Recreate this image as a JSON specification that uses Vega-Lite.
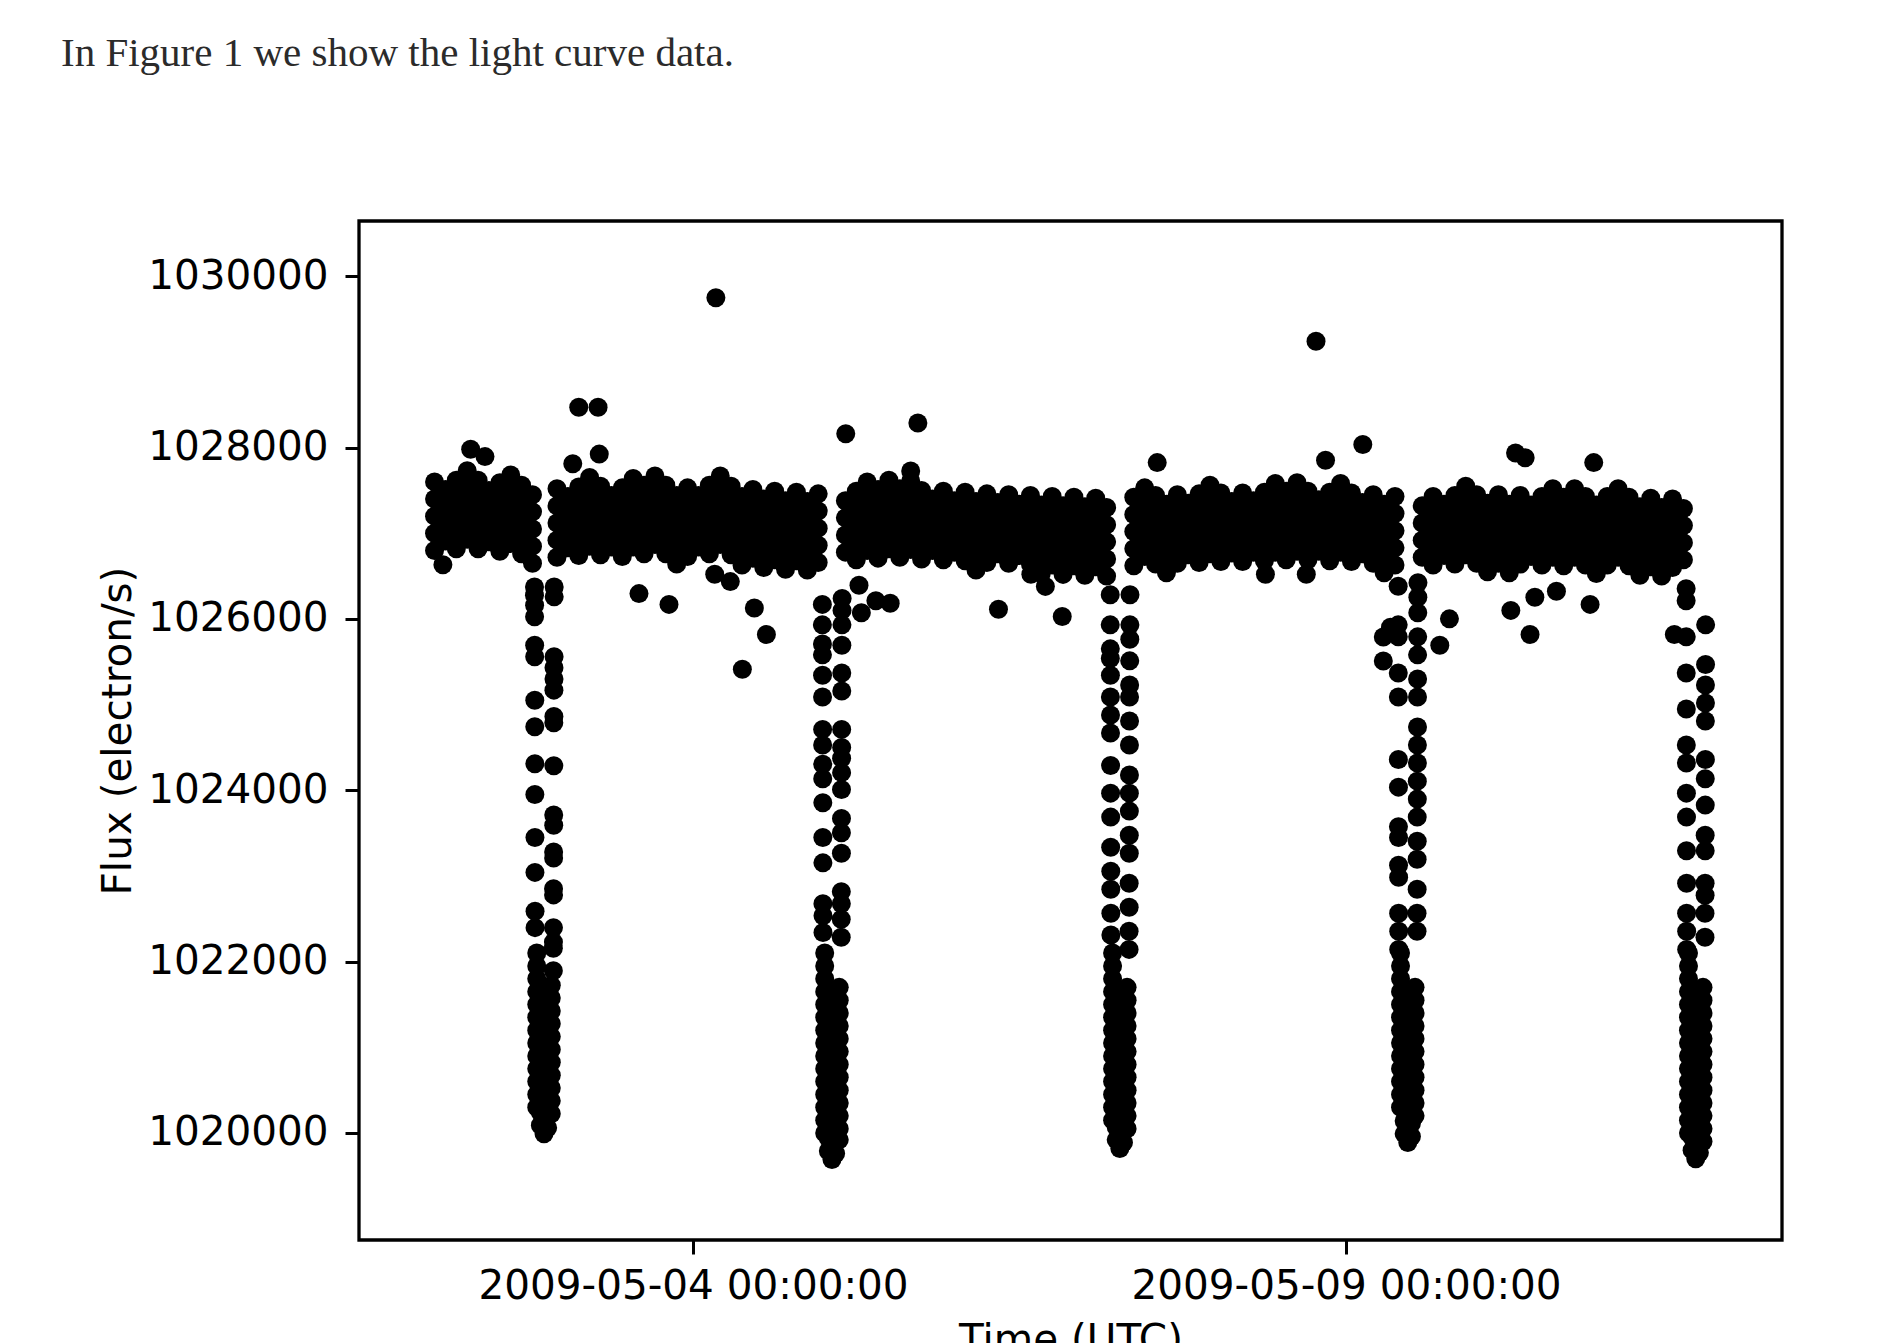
{
"$schema":"https://vega.github.io/schema/vega-lite/v6.json",
"width":1423,"height":1019,
"autosize":{"type":"none"},
"padding":{"left":359,"top":221,"right":104,"bottom":103},
"background":"white",
"title":{"text":"In Figure 1 we show the light curve data.","anchor":"start","frame":"group","orient":"top","offset":114,"baseline":"alphabetic","dx":-298,"font":"Liberation Serif","fontSize":41,"fontWeight":"normal","color":"#2b2b2b","limit":0},
"data":{"format":{"parse":{"t":"utc:'%Y%m%d%H%M'"}},"values":[
{"t":"200905020030","f":1026800},{"t":"200905020030","f":1027000},{"t":"200905020030","f":1027200},{"t":"200905020030","f":1027400},{"t":"200905020030","f":1027600},
{"t":"200905020230","f":1026910},{"t":"200905020230","f":1027110},{"t":"200905020230","f":1027310},{"t":"200905020230","f":1027510},
{"t":"200905020430","f":1026820},{"t":"200905020430","f":1027020},{"t":"200905020430","f":1027220},{"t":"200905020430","f":1027420},{"t":"200905020430","f":1027620},
{"t":"200905020630","f":1026930},{"t":"200905020630","f":1027130},{"t":"200905020630","f":1027330},{"t":"200905020630","f":1027530},{"t":"200905020630","f":1027730},
{"t":"200905020830","f":1026820},{"t":"200905020830","f":1027020},{"t":"200905020830","f":1027220},{"t":"200905020830","f":1027420},{"t":"200905020830","f":1027620},
{"t":"200905021030","f":1026900},{"t":"200905021030","f":1027100},{"t":"200905021030","f":1027300},{"t":"200905021030","f":1027500},
{"t":"200905021230","f":1026790},{"t":"200905021230","f":1026990},{"t":"200905021230","f":1027190},{"t":"200905021230","f":1027390},{"t":"200905021230","f":1027590},
{"t":"200905021430","f":1026880},{"t":"200905021430","f":1027080},{"t":"200905021430","f":1027280},{"t":"200905021430","f":1027480},{"t":"200905021430","f":1027680},
{"t":"200905021630","f":1026760},{"t":"200905021630","f":1026960},{"t":"200905021630","f":1027160},{"t":"200905021630","f":1027360},{"t":"200905021630","f":1027560},
{"t":"200905021830","f":1026650},{"t":"200905021830","f":1026850},{"t":"200905021830","f":1027050},{"t":"200905021830","f":1027250},{"t":"200905021830","f":1027450},
{"t":"200905021852","f":1026374},{"t":"200905021852","f":1026278},{"t":"200905021853","f":1026161},{"t":"200905021853","f":1026025},{"t":"200905021854","f":1025694},{"t":"200905021854","f":1025558},{"t":"200905021855","f":1025052},{"t":"200905021855","f":1024741},{"t":"200905021856","f":1024310},{"t":"200905021856","f":1023952},{"t":"200905021857","f":1023449},{"t":"200905021857","f":1023042},{"t":"200905021858","f":1022588},{"t":"200905021858","f":1022397},
{"t":"200905021917","f":1022100},{"t":"200905021917","f":1021950},{"t":"200905021917","f":1021800},{"t":"200905021917","f":1021650},{"t":"200905021917","f":1021500},{"t":"200905021917","f":1021350},{"t":"200905021917","f":1021200},{"t":"200905021917","f":1021050},{"t":"200905021917","f":1020900},{"t":"200905021917","f":1020750},{"t":"200905021917","f":1020600},{"t":"200905021917","f":1020450},{"t":"200905021917","f":1020300},
{"t":"200905021957","f":1020090},{"t":"200905021957","f":1020240},{"t":"200905021957","f":1020390},
{"t":"200905022037","f":1019990},{"t":"200905022037","f":1020140},
{"t":"200905022117","f":1020060},{"t":"200905022117","f":1020210},{"t":"200905022117","f":1020360},
{"t":"200905022157","f":1021725},{"t":"200905022157","f":1021575},{"t":"200905022157","f":1021425},{"t":"200905022157","f":1021275},{"t":"200905022157","f":1021125},{"t":"200905022157","f":1020975},{"t":"200905022157","f":1020825},{"t":"200905022157","f":1020675},{"t":"200905022157","f":1020525},{"t":"200905022157","f":1020375},{"t":"200905022157","f":1020225},
{"t":"200905022220","f":1021894},{"t":"200905022220","f":1022156},{"t":"200905022221","f":1022228},{"t":"200905022221","f":1022397},{"t":"200905022222","f":1022779},{"t":"200905022222","f":1022850},{"t":"200905022223","f":1023209},{"t":"200905022223","f":1023281},{"t":"200905022224","f":1023593},{"t":"200905022224","f":1023713},{"t":"200905022225","f":1024287},{"t":"200905022225","f":1024789},{"t":"200905022226","f":1024861},{"t":"200905022226","f":1025169},{"t":"200905022227","f":1025300},{"t":"200905022227","f":1025430},{"t":"200905022228","f":1025558},{"t":"200905022229","f":1026258},{"t":"200905022229","f":1026374},
{"t":"200905022300","f":1026720},{"t":"200905022300","f":1026920},{"t":"200905022300","f":1027120},{"t":"200905022300","f":1027320},{"t":"200905022300","f":1027520},
{"t":"200905030100","f":1026830},{"t":"200905030100","f":1027030},{"t":"200905030100","f":1027230},{"t":"200905030100","f":1027430},
{"t":"200905030300","f":1026740},{"t":"200905030300","f":1026940},{"t":"200905030300","f":1027140},{"t":"200905030300","f":1027340},{"t":"200905030300","f":1027540},
{"t":"200905030500","f":1026850},{"t":"200905030500","f":1027050},{"t":"200905030500","f":1027250},{"t":"200905030500","f":1027450},{"t":"200905030500","f":1027650},
{"t":"200905030700","f":1026750},{"t":"200905030700","f":1026950},{"t":"200905030700","f":1027150},{"t":"200905030700","f":1027350},{"t":"200905030700","f":1027550},
{"t":"200905030900","f":1026840},{"t":"200905030900","f":1027040},{"t":"200905030900","f":1027240},{"t":"200905030900","f":1027440},
{"t":"200905031100","f":1026730},{"t":"200905031100","f":1026930},{"t":"200905031100","f":1027130},{"t":"200905031100","f":1027330},{"t":"200905031100","f":1027530},
{"t":"200905031300","f":1026840},{"t":"200905031300","f":1027040},{"t":"200905031300","f":1027240},{"t":"200905031300","f":1027440},{"t":"200905031300","f":1027640},
{"t":"200905031500","f":1026760},{"t":"200905031500","f":1026960},{"t":"200905031500","f":1027160},{"t":"200905031500","f":1027360},{"t":"200905031500","f":1027560},
{"t":"200905031700","f":1026870},{"t":"200905031700","f":1027070},{"t":"200905031700","f":1027270},{"t":"200905031700","f":1027470},{"t":"200905031700","f":1027670},
{"t":"200905031900","f":1026760},{"t":"200905031900","f":1026960},{"t":"200905031900","f":1027160},{"t":"200905031900","f":1027360},{"t":"200905031900","f":1027560},
{"t":"200905032100","f":1026640},{"t":"200905032100","f":1026840},{"t":"200905032100","f":1027040},{"t":"200905032100","f":1027240},{"t":"200905032100","f":1027440},
{"t":"200905032300","f":1026730},{"t":"200905032300","f":1026930},{"t":"200905032300","f":1027130},{"t":"200905032300","f":1027330},{"t":"200905032300","f":1027530},
{"t":"200905040100","f":1026840},{"t":"200905040100","f":1027040},{"t":"200905040100","f":1027240},{"t":"200905040100","f":1027440},
{"t":"200905040300","f":1026760},{"t":"200905040300","f":1026960},{"t":"200905040300","f":1027160},{"t":"200905040300","f":1027360},{"t":"200905040300","f":1027560},
{"t":"200905040500","f":1026870},{"t":"200905040500","f":1027070},{"t":"200905040500","f":1027270},{"t":"200905040500","f":1027470},{"t":"200905040500","f":1027670},
{"t":"200905040700","f":1026750},{"t":"200905040700","f":1026950},{"t":"200905040700","f":1027150},{"t":"200905040700","f":1027350},{"t":"200905040700","f":1027550},
{"t":"200905040900","f":1026630},{"t":"200905040900","f":1026830},{"t":"200905040900","f":1027030},{"t":"200905040900","f":1027230},{"t":"200905040900","f":1027430},
{"t":"200905041100","f":1026710},{"t":"200905041100","f":1026910},{"t":"200905041100","f":1027110},{"t":"200905041100","f":1027310},{"t":"200905041100","f":1027510},
{"t":"200905041300","f":1026600},{"t":"200905041300","f":1026800},{"t":"200905041300","f":1027000},{"t":"200905041300","f":1027200},{"t":"200905041300","f":1027400},
{"t":"200905041500","f":1026690},{"t":"200905041500","f":1026890},{"t":"200905041500","f":1027090},{"t":"200905041500","f":1027290},{"t":"200905041500","f":1027490},
{"t":"200905041700","f":1026580},{"t":"200905041700","f":1026780},{"t":"200905041700","f":1026980},{"t":"200905041700","f":1027180},{"t":"200905041700","f":1027380},
{"t":"200905041900","f":1026680},{"t":"200905041900","f":1026880},{"t":"200905041900","f":1027080},{"t":"200905041900","f":1027280},{"t":"200905041900","f":1027480},
{"t":"200905042100","f":1026570},{"t":"200905042100","f":1026770},{"t":"200905042100","f":1026970},{"t":"200905042100","f":1027170},{"t":"200905042100","f":1027370},
{"t":"200905042300","f":1026660},{"t":"200905042300","f":1026860},{"t":"200905042300","f":1027060},{"t":"200905042300","f":1027260},{"t":"200905042300","f":1027460},
{"t":"200905042346","f":1026170},{"t":"200905042346","f":1025931},{"t":"200905042347","f":1025707},{"t":"200905042347","f":1025581},{"t":"200905042348","f":1025342},{"t":"200905042348","f":1025090},{"t":"200905042349","f":1024711},{"t":"200905042349","f":1024528},{"t":"200905042350","f":1024304},{"t":"200905042350","f":1024135},{"t":"200905042351","f":1023855},{"t":"200905042351","f":1023448},{"t":"200905042352","f":1023153},{"t":"200905042352","f":1022676},{"t":"200905042353","f":1022536},{"t":"200905042353","f":1022340},
{"t":"200905050012","f":1022100},{"t":"200905050012","f":1021950},{"t":"200905050012","f":1021800},{"t":"200905050012","f":1021650},{"t":"200905050012","f":1021500},{"t":"200905050012","f":1021350},{"t":"200905050012","f":1021200},{"t":"200905050012","f":1021050},{"t":"200905050012","f":1020900},{"t":"200905050012","f":1020750},{"t":"200905050012","f":1020600},{"t":"200905050012","f":1020450},{"t":"200905050012","f":1020300},{"t":"200905050012","f":1020150},{"t":"200905050012","f":1020000},
{"t":"200905050052","f":1019790},{"t":"200905050052","f":1019940},{"t":"200905050052","f":1020090},
{"t":"200905050132","f":1019690},{"t":"200905050132","f":1019840},
{"t":"200905050212","f":1019760},{"t":"200905050212","f":1019910},{"t":"200905050212","f":1020060},
{"t":"200905050252","f":1021700},{"t":"200905050252","f":1021550},{"t":"200905050252","f":1021400},{"t":"200905050252","f":1021250},{"t":"200905050252","f":1021100},{"t":"200905050252","f":1020950},{"t":"200905050252","f":1020800},{"t":"200905050252","f":1020650},{"t":"200905050252","f":1020500},{"t":"200905050252","f":1020350},{"t":"200905050252","f":1020200},{"t":"200905050252","f":1020050},{"t":"200905050252","f":1019920},
{"t":"200905050314","f":1022284},{"t":"200905050314","f":1022494},{"t":"200905050315","f":1022676},{"t":"200905050315","f":1022817},{"t":"200905050316","f":1023266},{"t":"200905050316","f":1023504},{"t":"200905050317","f":1023672},{"t":"200905050317","f":1024009},{"t":"200905050318","f":1024206},{"t":"200905050318","f":1024374},{"t":"200905050319","f":1024500},{"t":"200905050319","f":1024711},{"t":"200905050320","f":1025160},{"t":"200905050320","f":1025370},{"t":"200905050321","f":1025693},{"t":"200905050322","f":1025931},{"t":"200905050323","f":1026100},{"t":"200905050324","f":1026240},
{"t":"200905050400","f":1026780},{"t":"200905050400","f":1026980},{"t":"200905050400","f":1027180},{"t":"200905050400","f":1027380},
{"t":"200905050600","f":1026690},{"t":"200905050600","f":1026890},{"t":"200905050600","f":1027090},{"t":"200905050600","f":1027290},{"t":"200905050600","f":1027490},
{"t":"200905050800","f":1026800},{"t":"200905050800","f":1027000},{"t":"200905050800","f":1027200},{"t":"200905050800","f":1027400},{"t":"200905050800","f":1027600},
{"t":"200905051000","f":1026710},{"t":"200905051000","f":1026910},{"t":"200905051000","f":1027110},{"t":"200905051000","f":1027310},{"t":"200905051000","f":1027510},
{"t":"200905051200","f":1026820},{"t":"200905051200","f":1027020},{"t":"200905051200","f":1027220},{"t":"200905051200","f":1027420},{"t":"200905051200","f":1027620},
{"t":"200905051400","f":1026720},{"t":"200905051400","f":1026920},{"t":"200905051400","f":1027120},{"t":"200905051400","f":1027320},{"t":"200905051400","f":1027520},
{"t":"200905051600","f":1026810},{"t":"200905051600","f":1027010},{"t":"200905051600","f":1027210},{"t":"200905051600","f":1027410},{"t":"200905051600","f":1027610},
{"t":"200905051800","f":1026700},{"t":"200905051800","f":1026900},{"t":"200905051800","f":1027100},{"t":"200905051800","f":1027300},{"t":"200905051800","f":1027500},
{"t":"200905052000","f":1026800},{"t":"200905052000","f":1027000},{"t":"200905052000","f":1027200},{"t":"200905052000","f":1027400},
{"t":"200905052200","f":1026690},{"t":"200905052200","f":1026890},{"t":"200905052200","f":1027090},{"t":"200905052200","f":1027290},{"t":"200905052200","f":1027490},
{"t":"200905060000","f":1026780},{"t":"200905060000","f":1026980},{"t":"200905060000","f":1027180},{"t":"200905060000","f":1027380},
{"t":"200905060200","f":1026680},{"t":"200905060200","f":1026880},{"t":"200905060200","f":1027080},{"t":"200905060200","f":1027280},{"t":"200905060200","f":1027480},
{"t":"200905060400","f":1026570},{"t":"200905060400","f":1026770},{"t":"200905060400","f":1026970},{"t":"200905060400","f":1027170},{"t":"200905060400","f":1027370},
{"t":"200905060600","f":1026660},{"t":"200905060600","f":1026860},{"t":"200905060600","f":1027060},{"t":"200905060600","f":1027260},{"t":"200905060600","f":1027460},
{"t":"200905060800","f":1026760},{"t":"200905060800","f":1026960},{"t":"200905060800","f":1027160},{"t":"200905060800","f":1027360},
{"t":"200905061000","f":1026650},{"t":"200905061000","f":1026850},{"t":"200905061000","f":1027050},{"t":"200905061000","f":1027250},{"t":"200905061000","f":1027450},
{"t":"200905061200","f":1026740},{"t":"200905061200","f":1026940},{"t":"200905061200","f":1027140},{"t":"200905061200","f":1027340},
{"t":"200905061400","f":1026640},{"t":"200905061400","f":1026840},{"t":"200905061400","f":1027040},{"t":"200905061400","f":1027240},{"t":"200905061400","f":1027440},
{"t":"200905061600","f":1026530},{"t":"200905061600","f":1026730},{"t":"200905061600","f":1026930},{"t":"200905061600","f":1027130},{"t":"200905061600","f":1027330},
{"t":"200905061800","f":1026630},{"t":"200905061800","f":1026830},{"t":"200905061800","f":1027030},{"t":"200905061800","f":1027230},{"t":"200905061800","f":1027430},
{"t":"200905062000","f":1026520},{"t":"200905062000","f":1026720},{"t":"200905062000","f":1026920},{"t":"200905062000","f":1027120},{"t":"200905062000","f":1027320},
{"t":"200905062200","f":1026620},{"t":"200905062200","f":1026820},{"t":"200905062200","f":1027020},{"t":"200905062200","f":1027220},{"t":"200905062200","f":1027420},
{"t":"200905070000","f":1026510},{"t":"200905070000","f":1026710},{"t":"200905070000","f":1026910},{"t":"200905070000","f":1027110},{"t":"200905070000","f":1027310},
{"t":"200905070200","f":1026610},{"t":"200905070200","f":1026810},{"t":"200905070200","f":1027010},{"t":"200905070200","f":1027210},{"t":"200905070200","f":1027410},
{"t":"200905070400","f":1026500},{"t":"200905070400","f":1026700},{"t":"200905070400","f":1026900},{"t":"200905070400","f":1027100},{"t":"200905070400","f":1027300},
{"t":"200905070440","f":1026282},{"t":"200905070440","f":1025931},{"t":"200905070441","f":1025651},{"t":"200905070441","f":1025539},{"t":"200905070442","f":1025342},{"t":"200905070442","f":1025090},{"t":"200905070443","f":1024879},{"t":"200905070443","f":1024669},{"t":"200905070444","f":1024290},{"t":"200905070444","f":1023967},{"t":"200905070445","f":1023687},{"t":"200905070445","f":1023336},{"t":"200905070446","f":1023056},{"t":"200905070446","f":1022845},{"t":"200905070447","f":1022564},{"t":"200905070447","f":1022312},
{"t":"200905070506","f":1022100},{"t":"200905070506","f":1021950},{"t":"200905070506","f":1021800},{"t":"200905070506","f":1021650},{"t":"200905070506","f":1021500},{"t":"200905070506","f":1021350},{"t":"200905070506","f":1021200},{"t":"200905070506","f":1021050},{"t":"200905070506","f":1020900},{"t":"200905070506","f":1020750},{"t":"200905070506","f":1020600},{"t":"200905070506","f":1020450},{"t":"200905070506","f":1020300},{"t":"200905070506","f":1020150},
{"t":"200905070546","f":1019920},{"t":"200905070546","f":1020070},{"t":"200905070546","f":1020220},
{"t":"200905070626","f":1019820},{"t":"200905070626","f":1019970},
{"t":"200905070706","f":1019890},{"t":"200905070706","f":1020040},{"t":"200905070706","f":1020190},
{"t":"200905070746","f":1021700},{"t":"200905070746","f":1021550},{"t":"200905070746","f":1021400},{"t":"200905070746","f":1021250},{"t":"200905070746","f":1021100},{"t":"200905070746","f":1020950},{"t":"200905070746","f":1020800},{"t":"200905070746","f":1020650},{"t":"200905070746","f":1020500},{"t":"200905070746","f":1020350},{"t":"200905070746","f":1020200},{"t":"200905070746","f":1020050},
{"t":"200905070808","f":1022143},{"t":"200905070808","f":1022354},{"t":"200905070809","f":1022635},{"t":"200905070809","f":1022915},{"t":"200905070810","f":1023266},{"t":"200905070810","f":1023476},{"t":"200905070811","f":1023757},{"t":"200905070811","f":1023967},{"t":"200905070812","f":1024178},{"t":"200905070812","f":1024528},{"t":"200905070813","f":1024809},{"t":"200905070813","f":1025090},{"t":"200905070814","f":1025230},{"t":"200905070815","f":1025511},{"t":"200905070816","f":1025763},{"t":"200905070817","f":1025931},{"t":"200905070818","f":1026282},
{"t":"200905070900","f":1026620},{"t":"200905070900","f":1026820},{"t":"200905070900","f":1027020},{"t":"200905070900","f":1027220},{"t":"200905070900","f":1027420},
{"t":"200905071100","f":1026730},{"t":"200905071100","f":1026930},{"t":"200905071100","f":1027130},{"t":"200905071100","f":1027330},{"t":"200905071100","f":1027530},
{"t":"200905071300","f":1026640},{"t":"200905071300","f":1026840},{"t":"200905071300","f":1027040},{"t":"200905071300","f":1027240},{"t":"200905071300","f":1027440},
{"t":"200905071500","f":1026540},{"t":"200905071500","f":1026740},{"t":"200905071500","f":1026940},{"t":"200905071500","f":1027140},{"t":"200905071500","f":1027340},
{"t":"200905071700","f":1026650},{"t":"200905071700","f":1026850},{"t":"200905071700","f":1027050},{"t":"200905071700","f":1027250},{"t":"200905071700","f":1027450},
{"t":"200905071900","f":1026750},{"t":"200905071900","f":1026950},{"t":"200905071900","f":1027150},{"t":"200905071900","f":1027350},
{"t":"200905072100","f":1026660},{"t":"200905072100","f":1026860},{"t":"200905072100","f":1027060},{"t":"200905072100","f":1027260},{"t":"200905072100","f":1027460},
{"t":"200905072300","f":1026760},{"t":"200905072300","f":1026960},{"t":"200905072300","f":1027160},{"t":"200905072300","f":1027360},{"t":"200905072300","f":1027560},
{"t":"200905080100","f":1026670},{"t":"200905080100","f":1026870},{"t":"200905080100","f":1027070},{"t":"200905080100","f":1027270},{"t":"200905080100","f":1027470},
{"t":"200905080300","f":1026770},{"t":"200905080300","f":1026970},{"t":"200905080300","f":1027170},{"t":"200905080300","f":1027370},
{"t":"200905080500","f":1026670},{"t":"200905080500","f":1026870},{"t":"200905080500","f":1027070},{"t":"200905080500","f":1027270},{"t":"200905080500","f":1027470},
{"t":"200905080700","f":1026780},{"t":"200905080700","f":1026980},{"t":"200905080700","f":1027180},{"t":"200905080700","f":1027380},
{"t":"200905080900","f":1026680},{"t":"200905080900","f":1026880},{"t":"200905080900","f":1027080},{"t":"200905080900","f":1027280},{"t":"200905080900","f":1027480},
{"t":"200905081100","f":1026780},{"t":"200905081100","f":1026980},{"t":"200905081100","f":1027180},{"t":"200905081100","f":1027380},{"t":"200905081100","f":1027580},
{"t":"200905081300","f":1026690},{"t":"200905081300","f":1026890},{"t":"200905081300","f":1027090},{"t":"200905081300","f":1027290},{"t":"200905081300","f":1027490},
{"t":"200905081500","f":1026790},{"t":"200905081500","f":1026990},{"t":"200905081500","f":1027190},{"t":"200905081500","f":1027390},{"t":"200905081500","f":1027590},
{"t":"200905081700","f":1026690},{"t":"200905081700","f":1026890},{"t":"200905081700","f":1027090},{"t":"200905081700","f":1027290},{"t":"200905081700","f":1027490},
{"t":"200905081900","f":1026790},{"t":"200905081900","f":1026990},{"t":"200905081900","f":1027190},{"t":"200905081900","f":1027390},
{"t":"200905082100","f":1026680},{"t":"200905082100","f":1026880},{"t":"200905082100","f":1027080},{"t":"200905082100","f":1027280},{"t":"200905082100","f":1027480},
{"t":"200905082300","f":1026780},{"t":"200905082300","f":1026980},{"t":"200905082300","f":1027180},{"t":"200905082300","f":1027380},{"t":"200905082300","f":1027580},
{"t":"200905090100","f":1026670},{"t":"200905090100","f":1026870},{"t":"200905090100","f":1027070},{"t":"200905090100","f":1027270},{"t":"200905090100","f":1027470},
{"t":"200905090300","f":1026760},{"t":"200905090300","f":1026960},{"t":"200905090300","f":1027160},{"t":"200905090300","f":1027360},
{"t":"200905090500","f":1026650},{"t":"200905090500","f":1026850},{"t":"200905090500","f":1027050},{"t":"200905090500","f":1027250},{"t":"200905090500","f":1027450},
{"t":"200905090700","f":1026540},{"t":"200905090700","f":1026740},{"t":"200905090700","f":1026940},{"t":"200905090700","f":1027140},{"t":"200905090700","f":1027340},
{"t":"200905090900","f":1026630},{"t":"200905090900","f":1026830},{"t":"200905090900","f":1027030},{"t":"200905090900","f":1027230},{"t":"200905090900","f":1027430},
{"t":"200905090935","f":1026381},{"t":"200905090935","f":1025931},{"t":"200905090936","f":1025791},{"t":"200905090936","f":1025370},{"t":"200905090937","f":1025090},{"t":"200905090937","f":1024360},{"t":"200905090938","f":1024037},{"t":"200905090938","f":1023575},{"t":"200905090939","f":1023448},{"t":"200905090939","f":1023126},{"t":"200905090940","f":1022986},{"t":"200905090940","f":1022564},{"t":"200905090941","f":1022354},{"t":"200905090941","f":1022143},
{"t":"200905091001","f":1022100},{"t":"200905091001","f":1021950},{"t":"200905091001","f":1021800},{"t":"200905091001","f":1021650},{"t":"200905091001","f":1021500},{"t":"200905091001","f":1021350},{"t":"200905091001","f":1021200},{"t":"200905091001","f":1021050},{"t":"200905091001","f":1020900},{"t":"200905091001","f":1020750},{"t":"200905091001","f":1020600},{"t":"200905091001","f":1020450},{"t":"200905091001","f":1020300},
{"t":"200905091041","f":1019990},{"t":"200905091041","f":1020140},{"t":"200905091041","f":1020290},
{"t":"200905091121","f":1019890},{"t":"200905091121","f":1020040},
{"t":"200905091201","f":1019960},{"t":"200905091201","f":1020110},{"t":"200905091201","f":1020260},
{"t":"200905091241","f":1021700},{"t":"200905091241","f":1021550},{"t":"200905091241","f":1021400},{"t":"200905091241","f":1021250},{"t":"200905091241","f":1021100},{"t":"200905091241","f":1020950},{"t":"200905091241","f":1020800},{"t":"200905091241","f":1020650},{"t":"200905091241","f":1020500},{"t":"200905091241","f":1020350},{"t":"200905091241","f":1020200},
{"t":"200905091303","f":1022354},{"t":"200905091303","f":1022564},{"t":"200905091304","f":1022845},{"t":"200905091304","f":1023196},{"t":"200905091305","f":1023406},{"t":"200905091305","f":1023687},{"t":"200905091306","f":1023897},{"t":"200905091306","f":1024107},{"t":"200905091307","f":1024318},{"t":"200905091307","f":1024528},{"t":"200905091308","f":1024739},{"t":"200905091308","f":1025090},{"t":"200905091309","f":1025300},{"t":"200905091309","f":1025581},{"t":"200905091310","f":1025791},{"t":"200905091311","f":1026072},{"t":"200905091312","f":1026254},{"t":"200905091313","f":1026423},
{"t":"200905091400","f":1026720},{"t":"200905091400","f":1026920},{"t":"200905091400","f":1027120},{"t":"200905091400","f":1027320},
{"t":"200905091600","f":1026630},{"t":"200905091600","f":1026830},{"t":"200905091600","f":1027030},{"t":"200905091600","f":1027230},{"t":"200905091600","f":1027430},
{"t":"200905091800","f":1026740},{"t":"200905091800","f":1026940},{"t":"200905091800","f":1027140},{"t":"200905091800","f":1027340},
{"t":"200905092000","f":1026640},{"t":"200905092000","f":1026840},{"t":"200905092000","f":1027040},{"t":"200905092000","f":1027240},{"t":"200905092000","f":1027440},
{"t":"200905092200","f":1026750},{"t":"200905092200","f":1026950},{"t":"200905092200","f":1027150},{"t":"200905092200","f":1027350},{"t":"200905092200","f":1027550},
{"t":"200905100000","f":1026650},{"t":"200905100000","f":1026850},{"t":"200905100000","f":1027050},{"t":"200905100000","f":1027250},{"t":"200905100000","f":1027450},
{"t":"200905100200","f":1026550},{"t":"200905100200","f":1026750},{"t":"200905100200","f":1026950},{"t":"200905100200","f":1027150},{"t":"200905100200","f":1027350},
{"t":"200905100400","f":1026650},{"t":"200905100400","f":1026850},{"t":"200905100400","f":1027050},{"t":"200905100400","f":1027250},{"t":"200905100400","f":1027450},
{"t":"200905100600","f":1026540},{"t":"200905100600","f":1026740},{"t":"200905100600","f":1026940},{"t":"200905100600","f":1027140},{"t":"200905100600","f":1027340},
{"t":"200905100800","f":1026640},{"t":"200905100800","f":1026840},{"t":"200905100800","f":1027040},{"t":"200905100800","f":1027240},{"t":"200905100800","f":1027440},
{"t":"200905101000","f":1026730},{"t":"200905101000","f":1026930},{"t":"200905101000","f":1027130},{"t":"200905101000","f":1027330},
{"t":"200905101200","f":1026630},{"t":"200905101200","f":1026830},{"t":"200905101200","f":1027030},{"t":"200905101200","f":1027230},{"t":"200905101200","f":1027430},
{"t":"200905101400","f":1026720},{"t":"200905101400","f":1026920},{"t":"200905101400","f":1027120},{"t":"200905101400","f":1027320},{"t":"200905101400","f":1027520},
{"t":"200905101600","f":1026620},{"t":"200905101600","f":1026820},{"t":"200905101600","f":1027020},{"t":"200905101600","f":1027220},{"t":"200905101600","f":1027420},
{"t":"200905101800","f":1026720},{"t":"200905101800","f":1026920},{"t":"200905101800","f":1027120},{"t":"200905101800","f":1027320},{"t":"200905101800","f":1027520},
{"t":"200905102000","f":1026630},{"t":"200905102000","f":1026830},{"t":"200905102000","f":1027030},{"t":"200905102000","f":1027230},{"t":"200905102000","f":1027430},
{"t":"200905102200","f":1026530},{"t":"200905102200","f":1026730},{"t":"200905102200","f":1026930},{"t":"200905102200","f":1027130},{"t":"200905102200","f":1027330},
{"t":"200905110000","f":1026630},{"t":"200905110000","f":1026830},{"t":"200905110000","f":1027030},{"t":"200905110000","f":1027230},{"t":"200905110000","f":1027430},
{"t":"200905110200","f":1026720},{"t":"200905110200","f":1026920},{"t":"200905110200","f":1027120},{"t":"200905110200","f":1027320},{"t":"200905110200","f":1027520},
{"t":"200905110400","f":1026620},{"t":"200905110400","f":1026820},{"t":"200905110400","f":1027020},{"t":"200905110400","f":1027220},{"t":"200905110400","f":1027420},
{"t":"200905110600","f":1026510},{"t":"200905110600","f":1026710},{"t":"200905110600","f":1026910},{"t":"200905110600","f":1027110},{"t":"200905110600","f":1027310},
{"t":"200905110800","f":1026610},{"t":"200905110800","f":1026810},{"t":"200905110800","f":1027010},{"t":"200905110800","f":1027210},{"t":"200905110800","f":1027410},
{"t":"200905111000","f":1026500},{"t":"200905111000","f":1026700},{"t":"200905111000","f":1026900},{"t":"200905111000","f":1027100},{"t":"200905111000","f":1027300},
{"t":"200905111200","f":1026600},{"t":"200905111200","f":1026800},{"t":"200905111200","f":1027000},{"t":"200905111200","f":1027200},{"t":"200905111200","f":1027400},
{"t":"200905111400","f":1026690},{"t":"200905111400","f":1026890},{"t":"200905111400","f":1027090},{"t":"200905111400","f":1027290},
{"t":"200905111430","f":1026352},{"t":"200905111430","f":1026212},{"t":"200905111431","f":1025791},{"t":"200905111431","f":1025370},{"t":"200905111432","f":1024950},{"t":"200905111432","f":1024528},{"t":"200905111433","f":1024318},{"t":"200905111433","f":1023967},{"t":"200905111434","f":1023687},{"t":"200905111434","f":1023294},{"t":"200905111435","f":1022915},{"t":"200905111435","f":1022564},{"t":"200905111436","f":1022354},{"t":"200905111436","f":1022143},
{"t":"200905111456","f":1022100},{"t":"200905111456","f":1021950},{"t":"200905111456","f":1021800},{"t":"200905111456","f":1021650},{"t":"200905111456","f":1021500},{"t":"200905111456","f":1021350},{"t":"200905111456","f":1021200},{"t":"200905111456","f":1021050},{"t":"200905111456","f":1020900},{"t":"200905111456","f":1020750},{"t":"200905111456","f":1020600},{"t":"200905111456","f":1020450},{"t":"200905111456","f":1020300},{"t":"200905111456","f":1020150},{"t":"200905111456","f":1020000},
{"t":"200905111536","f":1019800},{"t":"200905111536","f":1019950},{"t":"200905111536","f":1020100},
{"t":"200905111616","f":1019700},{"t":"200905111616","f":1019850},
{"t":"200905111656","f":1019770},{"t":"200905111656","f":1019920},{"t":"200905111656","f":1020070},
{"t":"200905111736","f":1021700},{"t":"200905111736","f":1021550},{"t":"200905111736","f":1021400},{"t":"200905111736","f":1021250},{"t":"200905111736","f":1021100},{"t":"200905111736","f":1020950},{"t":"200905111736","f":1020800},{"t":"200905111736","f":1020650},{"t":"200905111736","f":1020500},{"t":"200905111736","f":1020350},{"t":"200905111736","f":1020200},{"t":"200905111736","f":1020050},{"t":"200905111736","f":1019900},
{"t":"200905111758","f":1022284},{"t":"200905111758","f":1022564},{"t":"200905111759","f":1022775},{"t":"200905111759","f":1022915},{"t":"200905111800","f":1023294},{"t":"200905111800","f":1023476},{"t":"200905111801","f":1023827},{"t":"200905111801","f":1024135},{"t":"200905111802","f":1024360},{"t":"200905111802","f":1024809},{"t":"200905111803","f":1025020},{"t":"200905111803","f":1025230},{"t":"200905111804","f":1025469},{"t":"200905111805","f":1025931},
{"t":"200905040412","f":1029750},{"t":"200905081829","f":1029242},{"t":"200905020708","f":1027980},{"t":"200905020946","f":1027895},{"t":"200905030300","f":1028471},{"t":"200905030633","f":1028471},{"t":"200905030646","f":1027924},{"t":"200905030154","f":1027811},{"t":"200905050404","f":1028162},{"t":"200905051719","f":1028288},{"t":"200905051600","f":1027727},{"t":"200905071318","f":1027825},{"t":"200905082014","f":1027853},{"t":"200905090305","f":1028036},{"t":"200905100709","f":1027938},{"t":"200905100855","f":1027881},{"t":"200905102131","f":1027825},
{"t":"200905020202","f":1026633},{"t":"200905031404","f":1026296},{"t":"200905031935","f":1026170},{"t":"200905040359","f":1026521},{"t":"200905040651","f":1026436},{"t":"200905041116","f":1026128},{"t":"200905041329","f":1025819},{"t":"200905040904","f":1025412},{"t":"200905050630","f":1026394},{"t":"200905050656","f":1026072},{"t":"200905050936","f":1026212},{"t":"200905051214","f":1026184},{"t":"200905060808","f":1026114},{"t":"200905061405","f":1026521},{"t":"200905061645","f":1026380},{"t":"200905061951","f":1026029},{"t":"200905080911","f":1026521},{"t":"200905081642","f":1026521},{"t":"200905091714","f":1025693},{"t":"200905091900","f":1026001},{"t":"200905100617","f":1026100},{"t":"200905100949","f":1025819},{"t":"200905101042","f":1026254},{"t":"200905101440","f":1026324},{"t":"200905102051","f":1026170},{"t":"200905111220","f":1025819},{"t":"200905090651","f":1025790},{"t":"200905090651","f":1025510},{"t":"200905090810","f":1025903}
]},
"mark":{"type":"point","shape":"circle","filled":true,"size":361,"color":"#000000","opacity":1,"strokeWidth":0},
"encoding":{
"x":{"field":"t","type":"temporal","title":"Time (UTC)",
"scale":{"type":"utc","domain":[{"year":2009,"month":5,"date":1,"hours":10,"minutes":37,"utc":true},{"year":2009,"month":5,"date":12,"hours":8,"minutes":7,"utc":true}]},
"axis":{"values":[{"year":2009,"month":5,"date":4,"utc":true},{"year":2009,"month":5,"date":9,"utc":true}],"labelExpr":"utcFormat(datum.value, '%Y-%m-%d %H:%M:%S')","grid":false,"domain":false,"ticks":true,"tickSize":14,"tickWidth":3,"tickColor":"#000000","labelFont":"DejaVu Sans","labelFontSize":40.5,"labelColor":"#000000","labelPadding":12,"labelFlush":false,"labelOverlap":false,"labelLimit":0,"titleFont":"DejaVu Sans","titleFontSize":40.5,"titleFontWeight":"normal","titleColor":"#000000","titlePadding":14,"titleLimit":0}},
"y":{"field":"f","type":"quantitative","title":"Flux (electron/s)",
"scale":{"domain":[1018751,1030645],"zero":false,"nice":false},
"axis":{"values":[1020000,1022000,1024000,1026000,1028000,1030000],"format":"d","grid":false,"domain":false,"ticks":true,"tickSize":14,"tickWidth":3,"tickColor":"#000000","labelFont":"DejaVu Sans","labelFontSize":40.5,"labelColor":"#000000","labelPadding":17,"labelLimit":0,"titleFont":"DejaVu Sans","titleFontSize":40.5,"titleFontWeight":"normal","titleColor":"#000000","titlePadding":20,"titleLimit":0}}
},
"config":{"view":{"stroke":"#000000","strokeWidth":3.3}}
}
